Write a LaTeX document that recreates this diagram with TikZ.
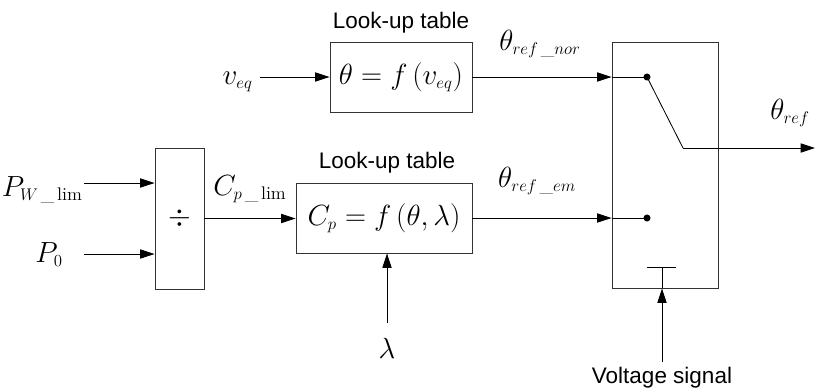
\documentclass[tikz,border=0pt]{standalone}
\usepackage{amsmath}
\usepackage{fontspec}
\newfontfamily\lblfont{Liberation Sans}
\DeclareMathSizes{20}{20}{13}{10}
\newcommand{\usc}{\,\text{\_}}
\usetikzlibrary{arrows.meta}
\tikzset{
  blk/.style={draw=black!80,line width=0.6pt,inner sep=0pt},
  sig/.style={-{Triangle[length=3.6mm,width=2.3mm]},line width=0.6pt},
  wire/.style={line width=0.6pt},
  mlbl/.style={font=\fontsize{20}{24}\selectfont,inner sep=0pt},
  tlbl/.style={font=\lblfont\fontsize{16}{19}\selectfont,inner sep=0pt},
  swdot/.style={circle,fill=black,inner sep=0pt,minimum size=5pt},
}
\begin{document}
\begin{tikzpicture}[x=0.025cm,y=-0.025cm]
  \useasboundingbox (0,0) rectangle (815,391);
  % blocks
  \node[blk,mlbl,minimum width=1.225cm,minimum height=3.525cm] (div) at (179.5,218.5) {$\div$};
  \node[blk,mlbl,minimum width=3.55cm,minimum height=1.75cm] (lutA) at (401,77) {$\theta = f\,(v_{eq})$};
  \node[blk,mlbl,minimum width=4.4cm,minimum height=1.75cm] (lutB) at (384,218) {$C_p = f\,(\theta,\lambda)$};
  \node[blk,minimum width=2.65cm,minimum height=6.15cm] (sw) at (665,165) {};
  \node[tlbl,anchor=base] (tabA) at (401,28) {Look-up table};
  \node[tlbl,anchor=base] (tabB) at (387,168) {Look-up table};
  % signal labels
  \node[mlbl,anchor=base east] (pw) at (83,196) {$P_{W\usc\lim}$};
  \node[mlbl,anchor=base east] (p0) at (63,262) {$P_0$};
  \node[mlbl,anchor=base east] (veq) at (253,84) {$v_{eq}$};
  \node[mlbl,anchor=base west] (cpl) at (213,195) {$C_{p\usc\lim}$};
  \node[mlbl,anchor=base] (thnor) at (540,50) {$\theta_{ref\usc nor}$};
  \node[mlbl,anchor=base] (them) at (537,187) {$\theta_{ref\usc em}$};
  \node[mlbl,anchor=base] (thref) at (790,119) {$\theta_{ref}$};
  \node[mlbl,anchor=base] (lam) at (387,358) {$\lambda$};
  \node[tlbl,anchor=base] (vsig) at (662,383) {Voltage signal};
  % connector ends
  \coordinate (pwS) at (84,183);
  \coordinate (p0S) at (84,254);
  \coordinate (veqS) at (260,77);
  \coordinate (lamS) at (387,323);
  \coordinate (vsS) at (662,362);
  \coordinate (outE) at (815,148);
  \coordinate (swA) at (647,77);
  \coordinate (swB) at (647,218);
  \coordinate (swP) at (683,148);
  \coordinate (tL) at (647,267);
  \coordinate (tR) at (676,267);
  \coordinate (tM) at (662,267);
  % connectors
  \draw[sig] (pwS) -- (pwS -| div.west);
  \draw[sig] (p0S) -- (p0S -| div.west);
  \draw[sig] (div.east) -- (div.east -| lutB.west);
  \draw[sig] (veqS) -- (lutA.west);
  \draw[sig] (lutA.east) -- (lutA.east -| sw.west);
  \draw[wire] (lutA.east -| sw.west) -- (swA);
  \draw[sig] (lutB.east) -- (lutB.east -| sw.west);
  \draw[wire] (lutB.east -| sw.west) -- (swB);
  \node[swdot] at (swA) {};
  \node[swdot] at (swB) {};
  \draw[wire] (swA) -- (swP);
  \draw[sig] (swP) -- (outE);
  \draw[wire] (tL) -- (tR);
  \draw[wire] (tM) -- (tM |- sw.south);
  \draw[sig] (vsS) -- (vsS |- sw.south);
  \draw[sig] (lamS) -- (lamS |- lutB.south);
\end{tikzpicture}
\end{document}
